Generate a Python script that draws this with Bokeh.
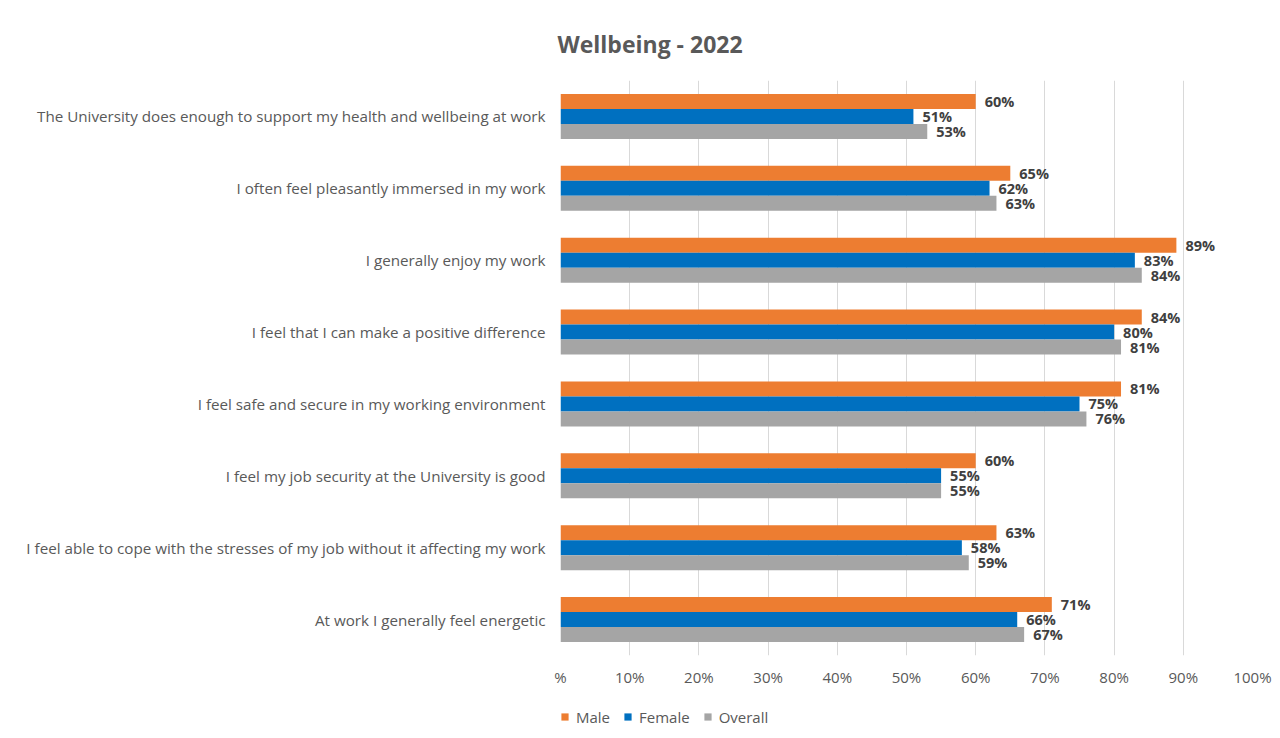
from bokeh.plotting import figure
from bokeh.layouts import column
from bokeh.models import ColumnDataSource, FactorRange, Legend, LegendItem, FixedTicker, Range1d
from bokeh.transform import dodge
from bokeh.core.properties import value
from bokeh.embed import file_html
from bokeh.resources import INLINE

categories = [
    "The University does enough to support my health and wellbeing at work",
    "I often feel pleasantly immersed in my work",
    "I generally enjoy my work",
    "I feel that I can make a positive difference",
    "I feel safe and secure in my working environment",
    "I feel my job security at the University is good",
    "I feel able to cope with the stresses of my job without it affecting my work",
    "At work I generally feel energetic",
]
male = [60, 65, 89, 84, 81, 60, 63, 71]
female = [51, 62, 83, 80, 75, 55, 58, 66]
overall = [53, 63, 84, 81, 76, 55, 59, 67]
x_ticks = [0, 10, 20, 30, 40, 50, 60, 70, 80, 90, 100]
x_tick_labels = ["%", "10%", "20%", "30%", "40%", "50%", "60%", "70%", "80%", "90%", "100%"]
series_names = ["Male", "Female", "Overall"]
series_colors = ["#ED7D31", "#0070C0", "#A5A5A5"]

FONT = "Open Sans"

src = ColumnDataSource(dict(
    cat=categories, male=male, female=female, overall=overall,
    male_lbl=[f"{v}%" for v in male],
    female_lbl=[f"{v}%" for v in female],
    overall_lbl=[f"{v}%" for v in overall],
))

p = figure(width=1280, height=695,
           y_range=FactorRange(factors=categories[::-1], range_padding=0),
           x_range=Range1d(0, 100),
           output_backend="svg", toolbar_location=None,
           min_border_left=560, min_border_right=28,
           min_border_top=80, min_border_bottom=40)

bar_h = 0.209
offsets = [bar_h, 0.0, -bar_h]
fields = ["male", "female", "overall"]
for f, off, col in zip(fields, offsets, series_colors):
    p.hbar(y=dodge("cat", off, range=p.y_range), right=f, left=0, height=bar_h,
           source=src, fill_color=col, line_color=None)
    p.text(x=f, y=dodge("cat", off, range=p.y_range), text=f + "_lbl", source=src,
           x_offset=9, text_align="left", text_baseline="middle",
           text_font=value(FONT), text_font_size="14.5px", text_font_style="bold",
           text_color="#404040")

p.title.text = "Wellbeing - 2022"
p.title.align = "left"
p.title.offset = -3
p.title.text_font = FONT
p.title.text_font_size = "23px"
p.title.text_font_style = "bold"
p.title.text_color = "#595959"
p.title.standoff = 41

p.outline_line_color = None
p.ygrid.grid_line_color = None
p.xgrid.grid_line_color = "#D9D9D9"
p.xgrid.grid_line_width = 1

p.xaxis.ticker = FixedTicker(ticks=x_ticks)
p.xaxis.major_label_overrides = {t: l for t, l in zip(x_ticks, x_tick_labels)}
p.xaxis.axis_line_color = None
p.xaxis.major_tick_line_color = None
p.xaxis.minor_tick_line_color = None
p.xaxis.major_tick_out = 0
p.xaxis.major_tick_in = 0
p.xaxis.major_label_standoff = 11
p.xaxis.major_label_text_font = FONT
p.xaxis.major_label_text_font_size = "15px"
p.xaxis.major_label_text_color = "#595959"

p.yaxis.axis_line_color = None
p.yaxis.major_tick_line_color = None
p.yaxis.minor_tick_line_color = None
p.yaxis.major_tick_out = 0
p.yaxis.major_tick_in = 0
p.yaxis.major_label_standoff = 15
p.yaxis.major_label_text_font = FONT
p.yaxis.major_label_text_font_size = "15.2px"
p.yaxis.major_label_text_color = "#595959"

# Legend strip below the chart
q = figure(width=1280, height=43, x_range=Range1d(0, 100), y_range=Range1d(0, 1),
           output_backend="svg", toolbar_location=None,
           x_axis_location=None, y_axis_location=None,
           min_border_left=532, min_border_right=0, min_border_top=0, min_border_bottom=0)
q.outline_line_color = None
q.grid.visible = False
leg_renderers = []
for f, col in zip(fields, series_colors):
    r = q.hbar(y=0.5, right=f, left=0, height=0.1, source=src,
               fill_color=col, line_color=None, visible=False)
    leg_renderers.append(r)

legend = Legend(items=[LegendItem(label=n, renderers=[r]) for n, r in zip(series_names, leg_renderers)],
                orientation="horizontal", location="left",
                border_line_color=None, background_fill_alpha=0,
                inactive_fill_alpha=0,
                glyph_width=9, glyph_height=9, label_standoff=7, spacing=13,
                padding=0, margin=0,
                label_text_font=FONT, label_text_font_size="15px", label_text_color="#595959")
q.add_layout(legend, "center")

layout = column(p, q, spacing=0)
open("out.html", "w").write(file_html(layout, INLINE))
